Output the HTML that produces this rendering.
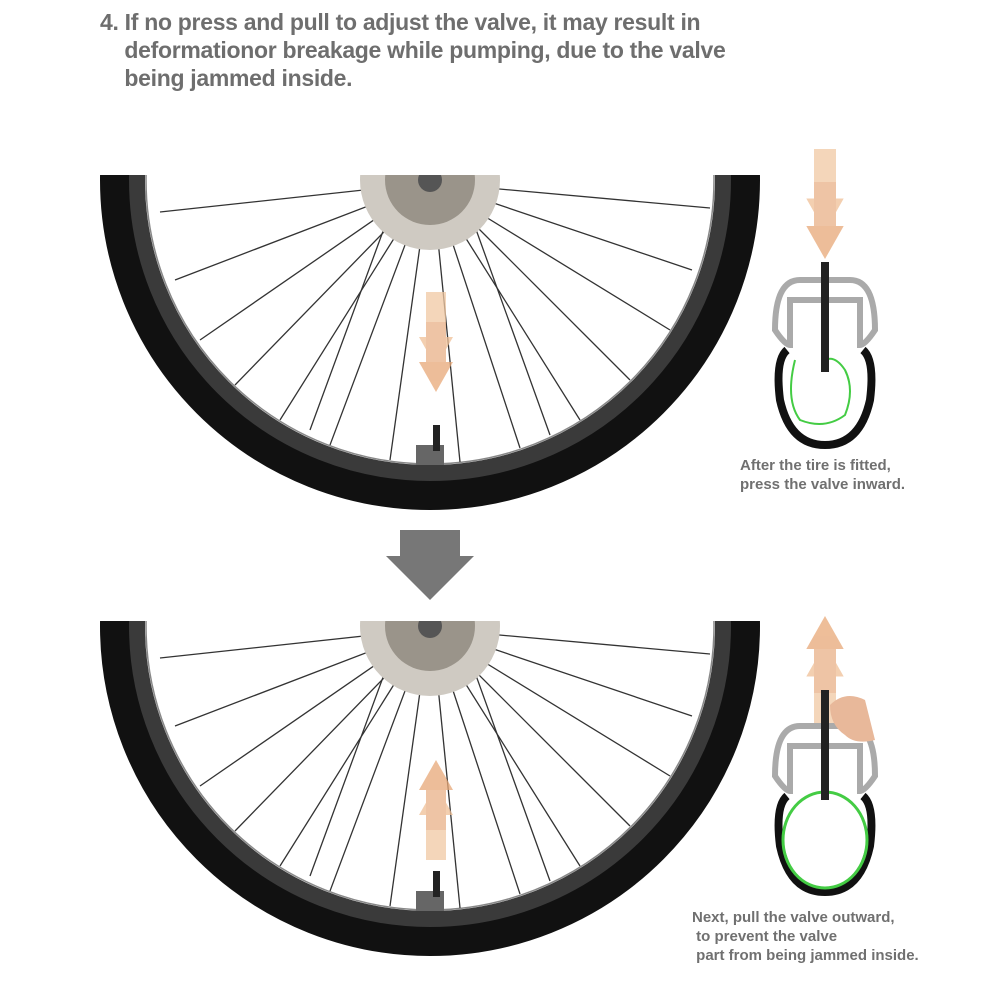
<!DOCTYPE html>
<html><head><meta charset="utf-8"><style>
html,body{margin:0;padding:0;background:#fff;}
body{width:1002px;height:1002px;position:relative;overflow:hidden;font-family:"Liberation Sans",sans-serif;}
.t{position:absolute;left:100px;top:8px;font-size:23px;font-weight:bold;color:#6e6e6e;line-height:28px;letter-spacing:-0.3px}
.c{position:absolute;font-size:15px;font-weight:bold;color:#707070;line-height:19px}
</style></head><body>
<div class="t">4. If no press and pull to adjust the valve, it may result in<br>&nbsp;&nbsp;&nbsp;&nbsp;deformationor breakage while pumping, due to the valve<br>&nbsp;&nbsp;&nbsp;&nbsp;being jammed inside.</div>
<svg width="1002" height="1002" style="position:absolute;left:0;top:0">
<defs>
<clipPath id="c1"><rect x="0" y="175" width="1002" height="340"/></clipPath>
<clipPath id="c2"><rect x="0" y="621" width="1002" height="340"/></clipPath>
<g id="wheel">
 <circle cx="0" cy="0" r="315" fill="none" stroke="#111" stroke-width="30"/>
 <circle cx="0" cy="0" r="293" fill="none" stroke="#3a3a3a" stroke-width="16"/>
 <circle cx="0" cy="0" r="284" fill="none" stroke="#888" stroke-width="1.5"/>
 <g stroke="#333" stroke-width="1.3">
  <line x1="-20" y1="5" x2="-270" y2="32"/><line x1="-20" y1="10" x2="-255" y2="100"/>
  <line x1="-20" y1="15" x2="-230" y2="160"/><line x1="-15" y1="20" x2="-195" y2="205"/>
  <line x1="-15" y1="25" x2="-150" y2="240"/><line x1="-10" y1="25" x2="-100" y2="265"/>
  <line x1="-5" y1="30" x2="-40" y2="280"/><line x1="5" y1="30" x2="30" y2="282"/>
  <line x1="10" y1="25" x2="90" y2="268"/><line x1="15" y1="25" x2="150" y2="240"/>
  <line x1="20" y1="20" x2="200" y2="200"/><line x1="20" y1="15" x2="240" y2="150"/>
  <line x1="25" y1="10" x2="262" y2="90"/><line x1="25" y1="5" x2="280" y2="28"/>
  <line x1="-30" y1="5" x2="-120" y2="250"/><line x1="30" y1="5" x2="120" y2="255"/>
 </g>
 <circle cx="0" cy="0" r="70" fill="#cfcac2"/>
 <circle cx="0" cy="0" r="45" fill="#9a948a"/>
 <circle cx="0" cy="0" r="12" fill="#555"/>
 <rect x="-14" y="265" width="28" height="20" fill="#666"/>
 <rect x="3" y="245" width="7" height="26" fill="#222"/>
</g>
<g id="arrowD" opacity="0.75">
 <rect x="-10" y="-60" width="20" height="45" fill="#f1c9a4"/>
 <polygon points="-17,-15 17,-15 0,15" fill="#efbf96"/>
 <rect x="-10" y="-30" width="20" height="40" fill="#e9b188"/>
 <polygon points="-17,10 17,10 0,40" fill="#e8a877"/>
</g>
</defs>
<g clip-path="url(#c1)"><use href="#wheel" transform="translate(430,180)"/></g>
<g clip-path="url(#c2)"><use href="#wheel" transform="translate(430,626)"/></g>
<use href="#arrowD" transform="translate(436,352)"/>
<use href="#arrowD" transform="translate(436,800) scale(1,-1)"/>
<polygon points="400,530 460,530 460,556 474,556 430,600 386,556 400,556" fill="#777"/>
<!-- cross sections -->
<g transform="translate(825,0)">
 <use href="#arrowD" transform="translate(0,215) scale(1.1)"/>
 <path d="M-50,330 Q-50,280 -25,280 L25,280 Q50,280 50,330 Q40,345 35,345 L35,300 L-35,300 L-35,345 Q-40,345 -50,330Z" fill="none" stroke="#aaa" stroke-width="6"/>
 <path d="M-38,350 Q-50,360 -45,400 Q-35,445 0,445 Q35,445 45,400 Q50,360 38,350" fill="none" stroke="#111" stroke-width="8"/>
 <path d="M-30,360 Q-40,400 -25,420 Q0,430 20,415 Q30,390 20,370 Q10,355 0,360" fill="none" stroke="#4c4" stroke-width="2"/>
 <rect x="-4" y="262" width="8" height="110" fill="#222"/>
 <use href="#arrowD" transform="translate(0,660) scale(1.1,-1.1)"/>
 <path d="M-50,776 Q-50,726 -25,726 L25,726 Q50,726 50,776 Q40,791 35,791 L35,746 L-35,746 L-35,791 Q-40,791 -50,776Z" fill="none" stroke="#aaa" stroke-width="6"/>
 <path d="M-38,796 Q-50,806 -45,846 Q-35,892 0,892 Q35,892 45,846 Q50,806 38,796" fill="none" stroke="#111" stroke-width="8"/>
 <ellipse cx="0" cy="840" rx="42" ry="48" fill="none" stroke="#4c4" stroke-width="3"/>
 <rect x="-4" y="690" width="8" height="110" fill="#222"/>
 <path d="M5,705 Q20,690 40,700 L50,740 Q30,745 20,735 Q5,725 5,705Z" fill="#e8b89a"/>
</g>
</svg>
<div class="c" style="left:740px;top:456px">After the tire is fitted,<br>press the valve inward.</div>
<div class="c" style="left:692px;top:908px">Next, pull the valve outward,<br>&nbsp;to prevent the valve<br>&nbsp;part from being jammed inside.</div>
</body></html>
